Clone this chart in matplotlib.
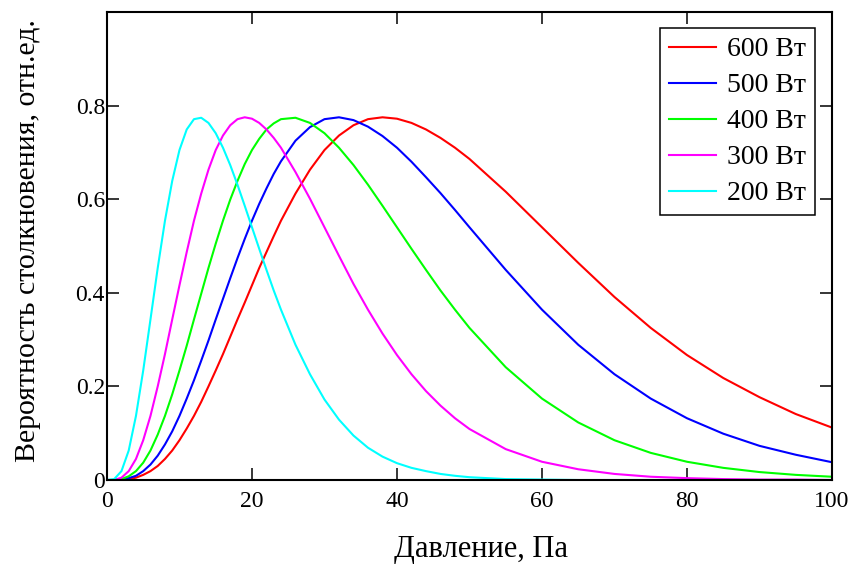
import matplotlib.pyplot as plt

# pressure grid, Pa
pressure = [0, 1, 2, 3, 4, 5, 6, 7, 8, 9, 10, 11, 12, 13, 14, 15, 16, 17, 18, 19, 20,
            21, 22, 23, 24, 26, 28, 30, 32, 34, 36, 38, 40, 42, 44, 46, 48, 50,
            55, 60, 65, 70, 75, 80, 85, 90, 95, 100]

p600 = [0, 0.000, 0.000, 0.002, 0.005, 0.011, 0.019, 0.030, 0.045, 0.063, 0.085,
        0.110, 0.137, 0.167, 0.200, 0.234, 0.269, 0.306, 0.343, 0.379, 0.416,
        0.453, 0.487, 0.521, 0.554, 0.612, 0.663, 0.705, 0.736, 0.758, 0.771, 0.775, 0.772,
        0.763, 0.749, 0.731, 0.710, 0.686,
        0.616, 0.540, 0.464, 0.391, 0.325, 0.267, 0.218, 0.177, 0.141, 0.112]

p500 = [0, 0.000, 0.001, 0.004, 0.009, 0.019, 0.033, 0.052, 0.076, 0.104, 0.137,
        0.174, 0.213, 0.255, 0.298, 0.343, 0.387, 0.431, 0.474, 0.515, 0.554,
        0.590, 0.623, 0.654, 0.681, 0.725, 0.754, 0.771, 0.775, 0.769, 0.755, 0.735, 0.710,
        0.680, 0.647, 0.613, 0.577, 0.540,
        0.449, 0.364, 0.289, 0.226, 0.174, 0.132, 0.099, 0.073, 0.054, 0.038]

p400 = [0, 0.000, 0.002, 0.008, 0.019, 0.037, 0.063, 0.097, 0.137, 0.183, 0.234,
        0.287, 0.343, 0.398, 0.453, 0.505, 0.554, 0.599, 0.639, 0.675, 0.705,
        0.729, 0.749, 0.762, 0.771, 0.774, 0.763, 0.741, 0.710, 0.673, 0.631, 0.586, 0.540,
        0.494, 0.449, 0.405, 0.364, 0.325,
        0.241, 0.174, 0.123, 0.085, 0.058, 0.039, 0.026, 0.017, 0.011, 0.007]

p300 = [0, 0.000, 0.005, 0.019, 0.045, 0.085, 0.137, 0.200, 0.269, 0.343, 0.416,
        0.487, 0.554, 0.612, 0.663, 0.705, 0.736, 0.758, 0.771, 0.775, 0.772,
        0.763, 0.749, 0.731, 0.710, 0.658, 0.601, 0.540, 0.479, 0.419, 0.364, 0.313, 0.267,
        0.226, 0.190, 0.159, 0.132, 0.109,
        0.066, 0.039, 0.023, 0.013, 0.007, 0.004, 0.002, 0.001, 0.001, 0.000]

p200 = [0, 0.002, 0.019, 0.063, 0.137, 0.234, 0.343, 0.453, 0.554, 0.639, 0.705,
        0.749, 0.771, 0.774, 0.763, 0.741, 0.710, 0.673, 0.631, 0.586, 0.540,
        0.494, 0.449, 0.405, 0.364, 0.289, 0.226, 0.172, 0.129, 0.095, 0.069, 0.050, 0.036,
        0.026, 0.019, 0.013, 0.009, 0.006,
        0.002, 0.001, 0.000, 0.000, 0.000, 0.000, 0.000, 0.000, 0.000, 0.000]

labels = ["600 Вт", "500 Вт", "400 Вт", "300 Вт", "200 Вт"]
colors = ["#ff0000", "#0000ff", "#00ff00", "#ff00ff", "#00ffff"]

plt.rcParams['font.family'] = ['Liberation Serif', 'DejaVu Serif']

fig = plt.figure(figsize=(8.55, 5.68), dpi=100)
ax = fig.add_axes([0.1251, 0.1549, 0.848, 0.824])

for ys, lab, c in zip([p600, p500, p400, p300, p200], labels, colors):
    ax.plot(pressure, ys, color=c, lw=1.5, label=lab)

ax.set_xlim(0, 100)
ax.set_ylim(0, 1.0)
ax.set_xticks([0, 20, 40, 60, 80, 100])
ax.set_xticklabels(["0", "20", "40", "60", "80", "100"])
ax.set_yticks([0, 0.2, 0.4, 0.6, 0.8])
ax.set_yticklabels(["0", "0.2", "0.4", "0.6", "0.8"])
ax.tick_params(direction='in', length=8.5, width=1.1, labelsize=17,
               top=True, right=True, colors='black')
ax.tick_params(axis='y', pad=1.5)
ax.tick_params(axis='x', pad=8)
for sp in ax.spines.values():
    sp.set_linewidth(1.5)

leg = ax.legend(loc='upper right', bbox_to_anchor=(0.9766, 0.9658), borderaxespad=0,
                fontsize=20, handlelength=1.7, handletextpad=0.4, labelspacing=0.38,
                borderpad=0.32, fancybox=False, framealpha=1, edgecolor='black')
leg.get_frame().set_linewidth(1.1)

fig.text(28 / 855, 1 - 241 / 568, "Вероятность столкновения, отн.ед.", rotation=90,
         ha='center', va='center', fontsize=21.5)
fig.text(481 / 855, 1 - 549 / 568, "Давление, Па", ha='center', va='center', fontsize=22)

fig.savefig("out.png", dpi=100)
